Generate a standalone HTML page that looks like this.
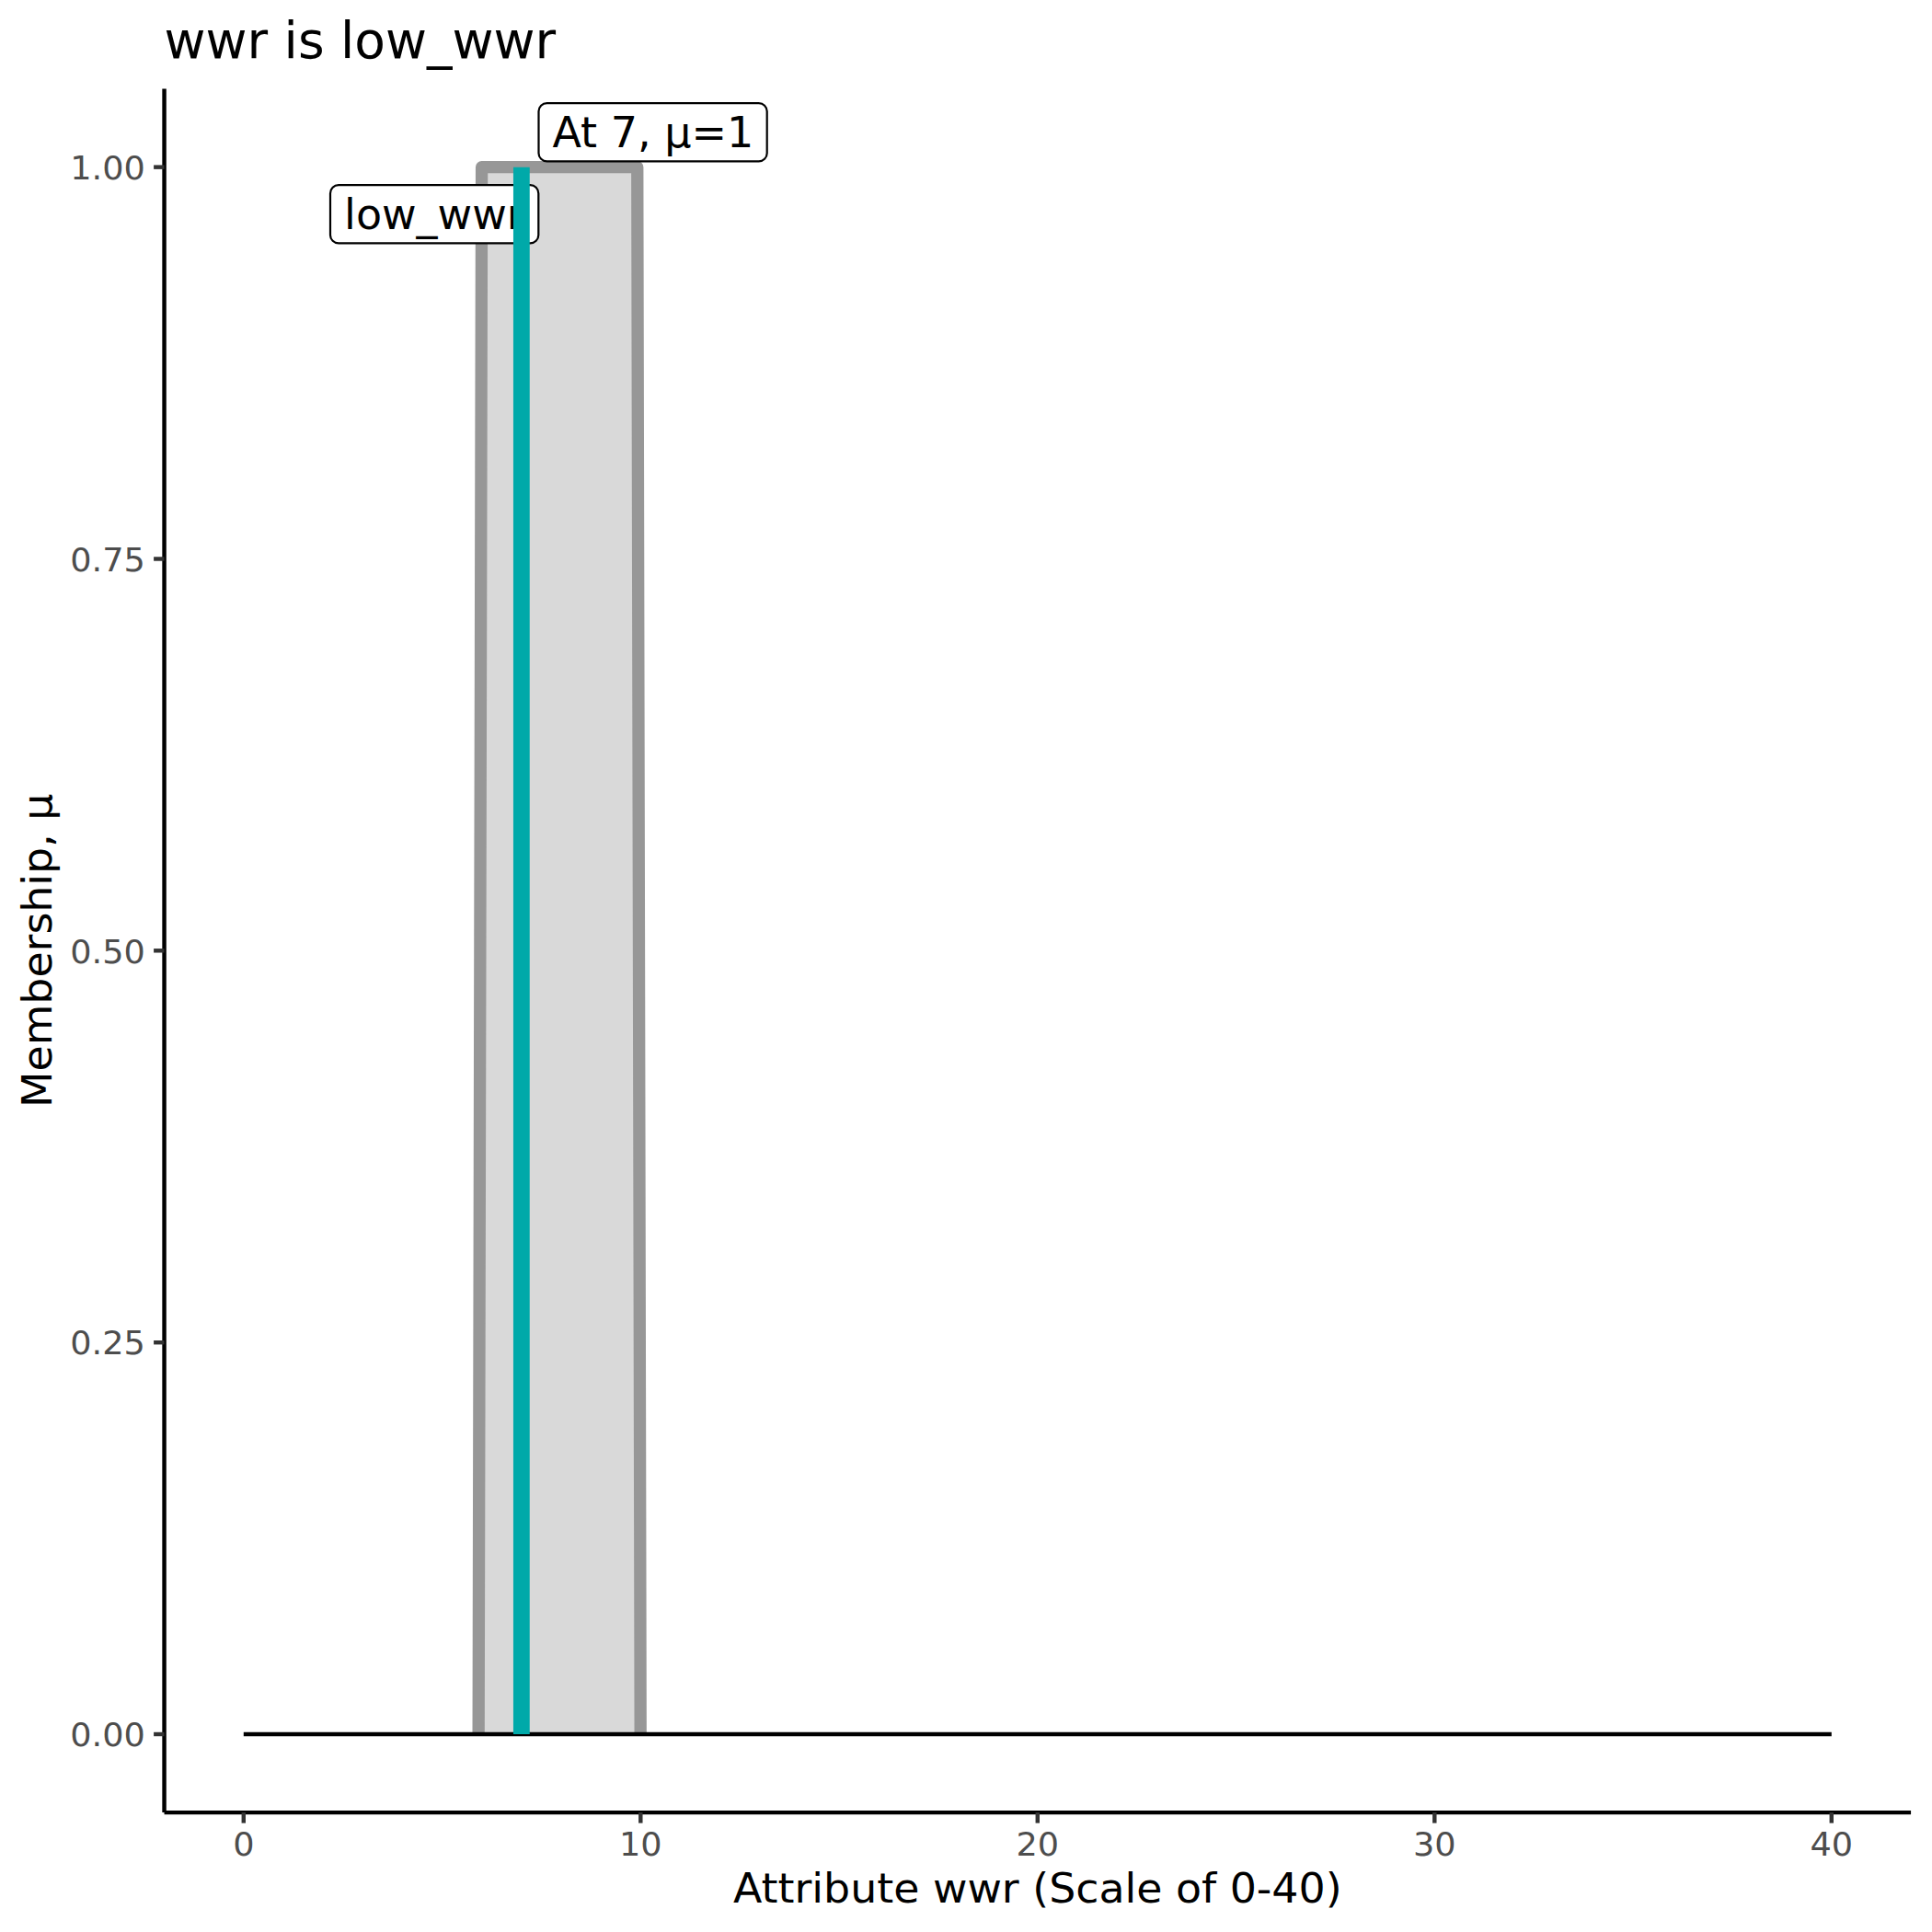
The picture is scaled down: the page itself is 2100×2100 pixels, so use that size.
<!DOCTYPE html>
<html lang="en">
<head>
<meta charset="utf-8">
<title>wwr is low_wwr</title>
<style>
html,body{margin:0;padding:0;background:#fff;}
body{width:2100px;height:2100px;overflow:hidden;}
svg{display:block;}
text{font-family:"DejaVu Sans","Liberation Sans",sans-serif;}
</style>
</head>
<body>
<svg width="2100" height="2100" viewBox="0 0 2100 2100">
<rect x="0" y="0" width="2100" height="2100" fill="#ffffff"/>

<!-- membership area fill -->
<polygon points="520.15,1885 523.6,181.65 692.75,181.65 696.2,1885" fill="#D9D9D9"/>
<!-- membership outline -->
<polyline points="520.15,1885 523.6,181.65 692.75,181.65 696.2,1885" fill="none" stroke="#979797" stroke-width="13.3" stroke-linejoin="round" stroke-linecap="butt"/>
<!-- baseline -->
<line x1="264.8" y1="1885" x2="1990.8" y2="1885" stroke="#000" stroke-width="4.45"/>

<!-- label low_wwr -->
<rect x="359.0" y="201.2" width="226.3" height="63.2" rx="9" ry="9" fill="#fff" stroke="#000" stroke-width="2.2"/>
<text transform="translate(374.1,248.8) scale(1,0.987)" font-size="46" fill="#000">low_wwr</text>

<!-- vertical marker -->
<line x1="566.85" y1="181.65" x2="566.85" y2="1885" stroke="#00A9A9" stroke-width="17.8"/>

<!-- label At 7 -->
<rect x="585.5" y="112.1" width="248.2" height="63.3" rx="9" ry="9" fill="#fff" stroke="#000" stroke-width="2.2"/>
<text transform="translate(600.4,160) scale(1,0.987)" font-size="46" fill="#000">At 7, μ=1</text>

<!-- axes -->
<line x1="178.55" y1="96.5" x2="178.55" y2="1970.1" stroke="#000" stroke-width="4.45"/>
<line x1="178.55" y1="1970.1" x2="2077.08" y2="1970.1" stroke="#000" stroke-width="4.45"/>

<!-- y ticks -->
<g stroke="#333333" stroke-width="4.45">
<line x1="167.1" y1="181.65" x2="178.55" y2="181.65"/>
<line x1="167.1" y1="607.5" x2="178.55" y2="607.5"/>
<line x1="167.1" y1="1033.3" x2="178.55" y2="1033.3"/>
<line x1="167.1" y1="1459.2" x2="178.55" y2="1459.2"/>
<line x1="167.1" y1="1885" x2="178.55" y2="1885"/>
</g>
<g font-size="36.67" fill="#4D4D4D" text-anchor="end">
<text transform="translate(157.9,194.9) scale(1,0.973)">1.00</text>
<text transform="translate(157.9,620.7) scale(1,0.973)">0.75</text>
<text transform="translate(157.9,1046.6) scale(1,0.973)">0.50</text>
<text transform="translate(157.9,1472.4) scale(1,0.973)">0.25</text>
<text transform="translate(157.9,1898.2) scale(1,0.973)">0.00</text>
</g>

<!-- x ticks -->
<g stroke="#333333" stroke-width="4.45">
<line x1="264.8" y1="1970.1" x2="264.8" y2="1981.6"/>
<line x1="696.3" y1="1970.1" x2="696.3" y2="1981.6"/>
<line x1="1127.8" y1="1970.1" x2="1127.8" y2="1981.6"/>
<line x1="1559.3" y1="1970.1" x2="1559.3" y2="1981.6"/>
<line x1="1990.8" y1="1970.1" x2="1990.8" y2="1981.6"/>
</g>
<g font-size="36.67" fill="#4D4D4D" text-anchor="middle">
<text transform="translate(264.8,2017) scale(1,0.973)">0</text>
<text transform="translate(696.3,2017) scale(1,0.973)">10</text>
<text transform="translate(1127.8,2017) scale(1,0.973)">20</text>
<text transform="translate(1559.3,2017) scale(1,0.973)">30</text>
<text transform="translate(1990.8,2017) scale(1,0.973)">40</text>
</g>

<!-- titles -->
<text x="178.55" y="63.1" font-size="55" fill="#000">wwr is low_wwr</text>
<text transform="translate(1127.8,2067.7) scale(1,0.987)" font-size="45.83" fill="#000" text-anchor="middle">Attribute wwr (Scale of 0-40)</text>
<text transform="translate(56.2,1033.3) rotate(-90) scale(1,0.987)" font-size="45.83" fill="#000" text-anchor="middle">Membership, μ</text>
</svg>
</body>
</html>
